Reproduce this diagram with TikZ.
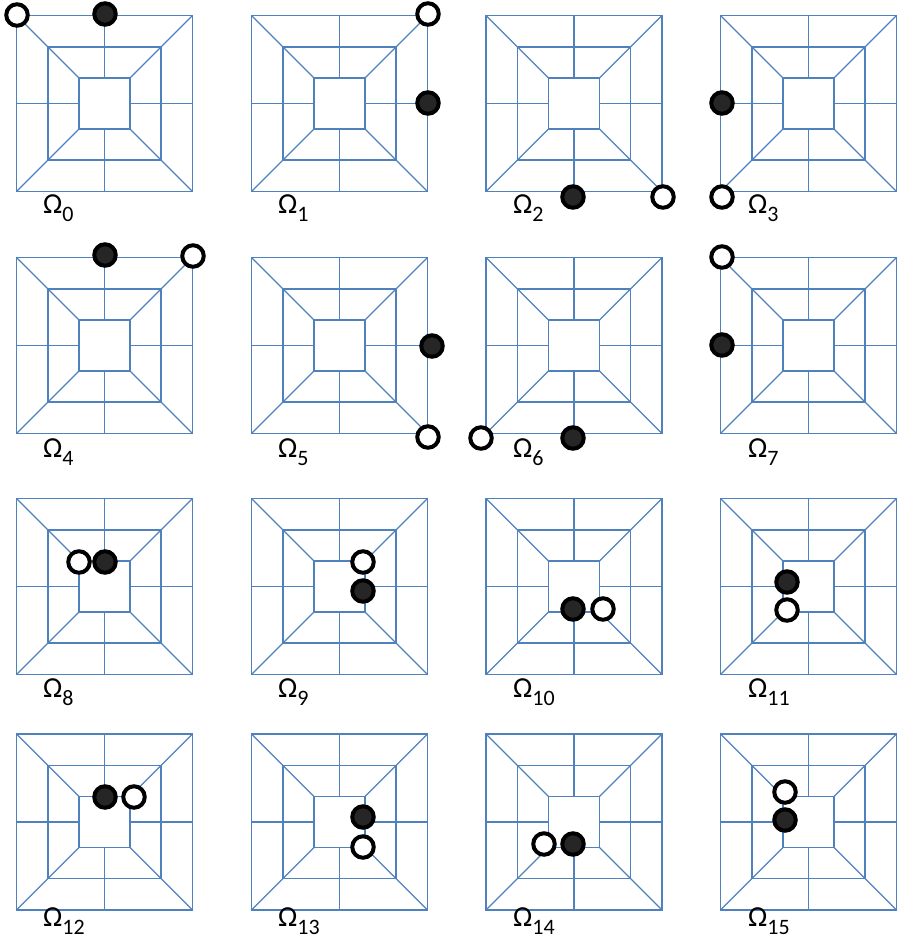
\documentclass[tikz,border=0pt]{standalone}
\usepackage{fontspec}
\usepackage{xcolor}
\usepackage{tikz}
\usetikzlibrary{positioning}
\newfontfamily\labelfont{Carlito}
\definecolor{boardblue}{HTML}{4F81BD}
\newcommand{\omlabel}[1]{Ω\raisebox{-8pt}[\height][0pt]{\fontsize{22}{22}\selectfont #1}}

\tikzset{
  grid line/.style={line width=1.3pt, boardblue},
  diag line/.style={line width=1.1pt, boardblue},
  stone/.style={circle, draw=black, line width=4pt, minimum size=21.5pt, inner sep=0pt},
  bstone/.style={stone, fill=black!85},
  wstone/.style={stone, fill=white},
  omlab/.style={anchor=base west, inner sep=0pt, font=\labelfont\fontsize{29}{29}\selectfont}
}

\begin{document}
\begin{tikzpicture}[x=1pt, y=-1pt]
  \useasboundingbox (0,0) rectangle (898,942);

  % the sixteen boards
  \foreach \cy in {103.5,345.5,586.5,822}{
    \foreach \cx in {104.5,339.5,574,808.5}{
      \begin{scope}[shift={(\cx,\cy)}]
        \draw[grid line] (-88,-88) rectangle (88,88);
        \draw[grid line] (-56.5,-56.5) rectangle (56.5,56.5);
        \draw[grid line] (-25.5,-25.5) rectangle (25.5,25.5);
        \draw[diag line] (-88,-88) -- (-25.5,-25.5) (88,-88) -- (25.5,-25.5)
                         (-88,88) -- (-25.5,25.5) (88,88) -- (25.5,25.5);
        \draw[grid line] (0,-88) -- (0,-25.5) (0,25.5) -- (0,88)
                         (-88,0) -- (-25.5,0) (25.5,0) -- (88,0);
      \end{scope}
    }
  }

  \node[wstone] (w0) at (17,15) {};
  \node[bstone] (b0) at (105,14) {};
  \node[wstone] (w1) at (428,14) {};
  \node[bstone] (b1) at (428,103) {};
  \node[bstone] (b2) at (573,197) {};
  \node[wstone] (w2) at (663,197) {};
  \node[bstone] (b3) at (722,103) {};
  \node[wstone] (w3) at (722,197) {};

  \node[bstone] (b4) at (105,255) {};
  \node[wstone] (w4) at (193,256) {};
  \node[bstone] (b5) at (432,346) {};
  \node[wstone] (w5) at (428,437) {};
  \node[wstone] (w6) at (481,438) {};
  \node[bstone] (b6) at (573,438) {};
  \node[wstone] (w7) at (722,257) {};
  \node[bstone] (b7) at (722,345) {};

  \node[wstone] (w8) at (79,562) {};
  \node[bstone] (b8) at (105,562) {};
  \node[wstone] (w9) at (363,562) {};
  \node[bstone] (b9) at (363,591) {};
  \node[bstone] (b10) at (573,609) {};
  \node[wstone] (w10) at (603,609) {};
  \node[bstone] (b11) at (787,582) {};
  \node[wstone] (w11) at (787,610) {};

  \node[bstone] (b12) at (105,797) {};
  \node[wstone] (w12) at (134,797) {};
  \node[bstone] (b13) at (363,817) {};
  \node[wstone] (w13) at (363,847) {};
  \node[wstone] (w14) at (544,844) {};
  \node[bstone] (b14) at (573,844) {};
  \node[wstone] (w15) at (785,792) {};
  \node[bstone] (b15) at (785,820) {};

  % labels
  \node[omlab] (om0) at (43,213) {\omlabel{0}};
  \node[omlab] (om1) at (278,213) {\omlabel{1}};
  \node[omlab] (om2) at (513,213) {\omlabel{2}};
  \node[omlab] (om3) at (748,213) {\omlabel{3}};
  \node[omlab] (om4) at (43,457) {\omlabel{4}};
  \node[omlab] (om5) at (278,457) {\omlabel{5}};
  \node[omlab] (om6) at (513,457) {\omlabel{6}};
  \node[omlab] (om7) at (748,457) {\omlabel{7}};
  \node[omlab] (om8) at (43,697) {\omlabel{8}};
  \node[omlab] (om9) at (278,697) {\omlabel{9}};
  \node[omlab] (om10) at (513,697) {\omlabel{10}};
  \node[omlab] (om11) at (748,697) {\omlabel{11}};
  \node[omlab] (om12) at (43,926) {\omlabel{12}};
  \node[omlab] (om13) at (278,926) {\omlabel{13}};
  \node[omlab] (om14) at (513,926) {\omlabel{14}};
  \node[omlab] (om15) at (748,926) {\omlabel{15}};
\end{tikzpicture}
\end{document}
